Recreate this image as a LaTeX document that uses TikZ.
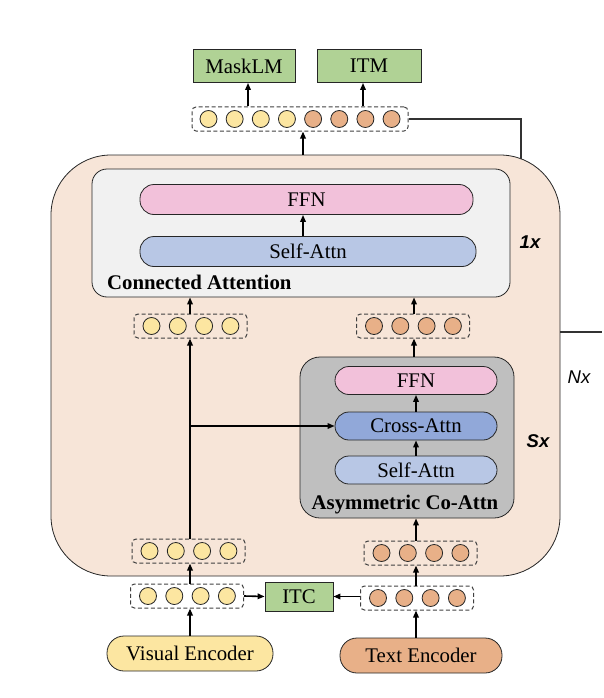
\documentclass[tikz,border=0pt]{standalone}
\usepackage{fontspec}
\setmainfont{Liberation Serif}
\newfontfamily\lsans{Liberation Sans}
\usetikzlibrary{arrows.meta,calc}
\definecolor{peach}{RGB}{247,229,216}
\definecolor{lgray}{RGB}{241,241,241}
\definecolor{pinkf}{RGB}{242,193,218}
\definecolor{lblue}{RGB}{184,199,229}
\definecolor{cblue}{RGB}{145,168,217}
\definecolor{agray}{RGB}{191,191,191}
\definecolor{greenf}{RGB}{176,210,149}
\definecolor{yelf}{RGB}{252,230,161}
\definecolor{orf}{RGB}{232,176,136}
\begin{document}
\begin{tikzpicture}[x=1pt,y=-1pt,
  font=\fontsize{20.8}{24}\selectfont,
  box/.style={draw=black!85, line width=0.8pt, inner sep=0pt},
  pill/.style={box, rounded corners=14pt, minimum height=30pt},
  gbox/.style={box, fill=greenf},
  tokbox/.style={draw=black!75, dash pattern=on 4pt off 2.5pt, line width=1pt, rounded corners=4pt, minimum width=113pt, minimum height=24pt, inner sep=0pt},
  tok/.style={circle, draw=black!85, line width=0.8pt, minimum size=17pt, inner sep=0pt},
  arr/.style={-{Triangle[length=7pt,width=5.5pt]}, line width=1.6pt},
  ln/.style={line width=1.1pt, draw=black!80},
  side/.style={font=\lsans\fontsize{18}{20}\selectfont}]
\useasboundingbox (0,0) rectangle (604,698);
% outer Nx box
\node[box, fill=peach, rounded corners=60pt, minimum width=509pt, minimum height=421pt] (outer) at (305.5,365.5) {};
% top heads
\node[gbox, minimum width=102pt, minimum height=33pt] (mask) at (244,66) {MaskLM};
\node[gbox, minimum width=104pt, minimum height=33pt] (itm) at (369,66) {ITM};
% top token row
\node[tokbox, minimum width=216pt] (top) at (300,119) {};
\foreach \i/\c in {0/yelf,1/yelf,2/yelf,3/yelf,4/orf,5/orf,6/orf,7/orf}
  \node[tok, fill=\c] (top\i) at (208.5+\i*26.15,119) {};
% connected attention
\node[box, fill=lgray, rounded corners=15pt, minimum width=418pt, minimum height=128pt] (conn) at (301,233) {};
\node[pill, fill=pinkf, minimum width=333pt] (cffn) at (306.5,199.5) {FFN};
\node[pill, fill=lblue, minimum width=336pt] (csa) at (308,251.5) {Self-Attn};
\node[anchor=west, font=\bfseries\fontsize{20.8}{24}\selectfont, inner sep=0pt] (connlbl) at (107,282) {Connected Attention};
\node[side, font=\lsans\bfseries\itshape\fontsize{18.5}{20}\selectfont] (l1x) at (530,242) {1x};
% middle token rows
\node[tokbox] (midL) at (190.5,326) {};
\node[tokbox] (midR) at (413,326) {};
\foreach \i in {0,...,3} {
  \node[tok, fill=yelf] (midL\i) at (151.5+\i*26.3,326) {};
  \node[tok, fill=orf] (midR\i) at (374+\i*26.3,326) {};
}
% asymmetric co-attention
\node[box, fill=agray, rounded corners=20pt, minimum width=214pt, minimum height=161pt] (asym) at (407,437.5) {};
\node[pill, fill=pinkf, minimum width=162pt, minimum height=28pt] (affn) at (416,380.5) {FFN};
\node[pill, fill=cblue, minimum width=162pt, minimum height=28pt] (cross) at (416,426) {Cross-Attn};
\node[pill, fill=lblue, minimum width=162pt, minimum height=28pt] (aself) at (416,470) {Self-Attn};
\node[font=\bfseries\fontsize{20.8}{24}\selectfont, inner sep=0pt] (asymlbl) at (405,505) {Asymmetric Co-Attn};
\node[side, font=\lsans\bfseries\itshape\fontsize{18.5}{20}\selectfont] (lsx) at (538,441) {Sx};
\node[side, font=\lsans\itshape\fontsize{18.5}{20}\selectfont] (lnx) at (579,377) {Nx};
% bottom inner token rows
\node[tokbox] (botL) at (188.5,551) {};
\node[tokbox] (botR) at (420.5,553) {};
\foreach \i in {0,...,3} {
  \node[tok, fill=yelf] (botL\i) at (149.5+\i*26.3,551) {};
  \node[tok, fill=orf] (botR\i) at (381.5+\i*26.3,553) {};
}
% outer token rows
\node[tokbox] (outL) at (187,596) {};
\node[tokbox] (outR) at (417,598) {};
\foreach \i in {0,...,3} {
  \node[tok, fill=yelf] (outL\i) at (148+\i*26.3,596) {};
  \node[tok, fill=orf] (outR\i) at (378+\i*26.3,598) {};
}
\node[gbox, minimum width=68pt, minimum height=29pt] (itc) at (299,596.5) {ITC};
% encoders
\node[pill, fill=yelf, rounded corners=17pt, minimum width=166pt, minimum height=35pt] (ve) at (190,653.5) {Visual Encoder};
\node[pill, fill=orf, rounded corners=17pt, minimum width=162pt, minimum height=35pt] (te) at (421,655.5) {Text Encoder};
% reference x positions
\coordinate (xA) at (248,0);
\coordinate (xB) at (363,0);
\coordinate (xC) at (303,0);
\coordinate (xL) at (190,0);
\coordinate (xR) at (414,0);
\coordinate (xI) at (416,0);
\coordinate (tr) at (521,119);
\coordinate (trb) at (521,159);
\coordinate (br) at (190,426);
\coordinate (nx) at (602,332);
% connectors
\draw[arr] (top.north -| xA) -- (mask.south -| xA);
\draw[arr] (top.north -| xB) -- (itm.south -| xB);
\draw[arr] (outer.north -| xC) -- (top.south -| xC);
\draw[ln] (top.east) -- (tr) -- (trb);
\draw[ln] (outer.east |- nx) -- (nx);
\draw[arr] (csa.north -| xC) -- (cffn.south -| xC);
\draw[arr] (midL.north -| xL) -- (conn.south -| xL);
\draw[arr] (midR.north -| xR) -- (conn.south -| xR);
\draw[arr] (asym.north -| xR) -- (midR.south -| xR);
\draw[arr] (botL.north -| xL) -- (midL.south -| xL);
\draw[arr] (br) -- (cross.west);
\draw[arr] (aself.north -| xI) -- (cross.south -| xI);
\draw[arr] (cross.north -| xI) -- (affn.south -| xI);
\draw[arr] (botR.north -| xI) -- (asym.south -| xI);
\draw[arr] (outL.north -| xL) -- (botL.south -| xL);
\draw[arr] (outR.north -| xI) -- (botR.south -| xI);
\draw[arr] (outL.east) -- (itc.west);
\draw[arr] (outR.west |- itc.east) -- (itc.east);
\draw[arr] (ve.north -| xL) -- (outL.south -| xL);
\draw[arr] (te.north -| xI) -- (outR.south -| xI);
\end{tikzpicture}
\end{document}
